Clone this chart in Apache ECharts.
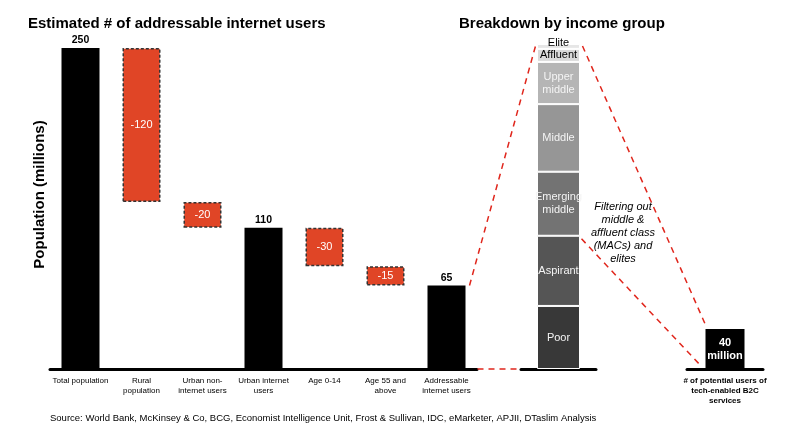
<!DOCTYPE html>
<html lang="en">
<head>
    <meta charset="UTF-8">
    <title>Addressable internet users</title>
    <script src="https://cdn.jsdelivr.net/npm/echarts@6/dist/echarts.min.js"></script>
    <style>
        html, body { margin: 0; padding: 0; background: #fff; }
        #chartmain { width: 800px; height: 439px; }
    </style>
</head>
<body>
<div id="chartmain"></div>
<script type="text/javascript">
    // waterfall data
    var stepNames = ['Total population', 'Rural\npopulation', 'Urban non-\ninternet users', 'Urban internet\nusers', 'Age 0-14', 'Age 55 and\nabove', 'Addressable\ninternet users'];
    var stepValues = [250, -120, -20, 110, -30, -15, 65];
    var stepIsTotal = [true, false, false, true, false, false, true];

    // income breakdown (share of addressable users, bottom to top)
    var incomeGroups = ['Poor', 'Aspirant', 'Emerging\nmiddle', 'Middle', 'Upper\nmiddle', 'Affluent', 'Elite'];
    var incomeShares = [19.4, 21.6, 19.7, 20.8, 13, 4, 1.5];

    var targetName = ['# of potential users of\ntech-enabled B2C\nservices'];
    var targetValue = [40];

    var FONT = '"Liberation Sans", Arial, Helvetica, sans-serif';
    var RED = '#e04526';
    var greys = ['#383838', '#555555', '#737373', '#969696', '#b5b5b5', '#dadada', '#e6e6e6'];
    var darkText = [false, false, false, false, false, true, true];

    // build waterfall stacks
    var baseData = [], totalData = [], deltaData = [];
    var running = 0;
    stepValues.forEach(function (v, i) {
        if (stepIsTotal[i]) {
            running = v;
            baseData.push(0);
            totalData.push(v);
            deltaData.push('-');
        } else {
            running = running + v;
            baseData.push(running);
            totalData.push('-');
            deltaData.push(Math.abs(v));
        }
    });

    var myChart = echarts.init(document.getElementById('chartmain'));

    var incomeSeries = incomeGroups.map(function (name, i) {
        return {
            name: name,
            type: 'bar',
            stack: 'income',
            xAxisIndex: 1,
            yAxisIndex: 1,
            barWidth: 43,
            data: [incomeShares[i]],
            itemStyle: { color: greys[i], borderColor: '#fff', borderWidth: 1 },
            label: {
                show: true,
                position: 'inside',
                formatter: name,
                offset: name === 'Elite' ? [0, -3] : [0, 0],
                color: darkText[i] ? '#000' : '#f4f4f4',
                fontFamily: FONT,
                fontSize: 11,
                lineHeight: 13
            }
        };
    });

    var option = {
        animation: false,
        textStyle: { fontFamily: FONT },
        title: [
            {
                text: 'Estimated # of addressable internet users',
                left: 23, top: 11,
                textStyle: { fontFamily: FONT, fontSize: 15, fontWeight: 'bold', color: '#000' }
            },
            {
                text: 'Breakdown by income group',
                left: 454, top: 11,
                textStyle: { fontFamily: FONT, fontSize: 15, fontWeight: 'bold', color: '#000' }
            },
            {
                text: 'Source: World Bank, McKinsey & Co, BCG, Economist Intelligence Unit, Frost & Sullivan, IDC, eMarketer, APJII, DTaslim Analysis',
                left: 45, top: 408,
                textStyle: { fontFamily: FONT, fontSize: 9.5, fontWeight: 'normal', color: '#000' }
            }
        ],
        grid: [
            { left: 50, right: 323, top: 48, bottom: 70, outerBoundsMode: 'none' },
            { left: 521, width: 75, top: 44, bottom: 70, outerBoundsMode: 'none' },
            { left: 687, width: 76, top: 44, bottom: 70, outerBoundsMode: 'none' }
        ],
        xAxis: [
            {
                gridIndex: 0, type: 'category', data: stepNames,
                axisLine: { lineStyle: { color: '#000', width: 3 } },
                axisTick: { show: false },
                axisLabel: { interval: 0, color: '#000', fontSize: 8, lineHeight: 10, margin: 7, fontFamily: FONT }
            },
            {
                gridIndex: 1, type: 'category', data: [''],
                axisLine: { lineStyle: { color: '#000', width: 3 } },
                axisTick: { show: false },
                axisLabel: { show: false }
            },
            {
                gridIndex: 2, type: 'category', data: targetName,
                axisLine: { lineStyle: { color: '#000', width: 3 } },
                axisTick: { show: false },
                axisLabel: { interval: 0, color: '#000', fontSize: 8, fontWeight: 'bold', lineHeight: 10, margin: 7, fontFamily: FONT }
            }
        ],
        yAxis: [
            {
                gridIndex: 0, type: 'value', min: 0, max: 250,
                name: 'Population (millions)',
                nameLocation: 'middle',
                nameRotate: 90,
                nameGap: 3,
                nameTextStyle: { fontFamily: FONT, fontSize: 15, fontWeight: 'bold', color: '#000', padding: [0, 0, 0, 28] },
                axisLine: { show: false }, axisTick: { show: false },
                axisLabel: { show: false }, splitLine: { show: false }
            },
            {
                gridIndex: 1, type: 'value', min: 0, max: 100,
                axisLine: { show: false }, axisTick: { show: false },
                axisLabel: { show: false }, splitLine: { show: false }
            },
            {
                gridIndex: 2, type: 'value', min: 0, max: 325,
                axisLine: { show: false }, axisTick: { show: false },
                axisLabel: { show: false }, splitLine: { show: false }
            }
        ],
        series: [
            {
                name: 'base', type: 'bar', stack: 'wf', barWidth: 38,
                data: baseData,
                itemStyle: { color: 'transparent' },
                silent: true
            },
            {
                name: 'total', type: 'bar', stack: 'wf', barWidth: 38,
                data: totalData,
                itemStyle: { color: '#000' },
                label: {
                    show: true, position: 'top', distance: 2,
                    color: '#000', fontSize: 10.5, fontWeight: 'bold', fontFamily: FONT
                }
            },
            {
                name: 'delta', type: 'bar', stack: 'wf', barWidth: 38,
                data: deltaData,
                itemStyle: { color: RED, borderColor: '#333', borderWidth: 1.5, borderType: [3, 2] },
                label: {
                    show: true, position: 'inside',
                    formatter: function (p) { return String(stepValues[p.dataIndex]); },
                    color: '#fff', fontSize: 11, fontFamily: FONT
                }
            }
        ].concat(incomeSeries).concat([
            {
                name: 'target', type: 'bar', xAxisIndex: 2, yAxisIndex: 2, barWidth: 39,
                data: targetValue,
                itemStyle: { color: '#000' },
                label: {
                    show: true, position: 'inside',
                    formatter: function (p) { return p.value + '\nmillion'; },
                    color: '#fff', fontSize: 11, fontWeight: 'bold', lineHeight: 13, fontFamily: FONT
                }
            }
        ])
    };
    myChart.setOption(option);

    // connectors, positioned through the axes
    var last = stepValues.length - 1;
    var addrTop = myChart.convertToPixel({ xAxisIndex: 0, yAxisIndex: 0 }, [last, stepValues[last]]);
    var axis0End = myChart.convertToPixel({ xAxisIndex: 0, yAxisIndex: 0 }, [last, 0]);
    var stackTop = myChart.convertToPixel({ xAxisIndex: 1, yAxisIndex: 1 }, [0, 100]);
    var stackBase = myChart.convertToPixel({ xAxisIndex: 1, yAxisIndex: 1 }, [0, 0]);
    var aspirantTop = myChart.convertToPixel({ xAxisIndex: 1, yAxisIndex: 1 }, [0, incomeShares[0] + incomeShares[1]]);
    var tgtTop = myChart.convertToPixel({ xAxisIndex: 2, yAxisIndex: 2 }, [0, targetValue[0]]);
    var tgtBase = myChart.convertToPixel({ xAxisIndex: 2, yAxisIndex: 2 }, [0, 0]);

    var dash = { stroke: '#e0261c', lineWidth: 1.5, lineDash: [6, 5] };
    function seg(x1, y1, x2, y2) {
        return { type: 'line', shape: { x1: x1, y1: y1, x2: x2, y2: y2 }, style: dash, z: 10 };
    }
    myChart.setOption({
        graphic: [
            seg(addrTop[0] + 23, addrTop[1], stackTop[0] - 23, stackTop[1] + 2),
            seg(axis0End[0] + 31, axis0End[1], stackBase[0] - 37, stackBase[1]),
            seg(stackTop[0] + 24, stackTop[1] + 2, tgtTop[0] - 19, tgtTop[1] - 3),
            seg(stackTop[0] + 23, aspirantTop[1] + 3, tgtBase[0] - 23, tgtBase[1] - 2),
            {
                type: 'text', z: 11,
                style: {
                    text: 'Filtering out\nmiddle &\naffluent class\n(MACs) and\nelites',
                    x: 623, y: 200,
                    textAlign: 'center',
                    font: 'italic 11px ' + FONT,
                    lineHeight: 13,
                    fill: '#000'
                }
            }
        ]
    });
</script>
</body>
</html>
